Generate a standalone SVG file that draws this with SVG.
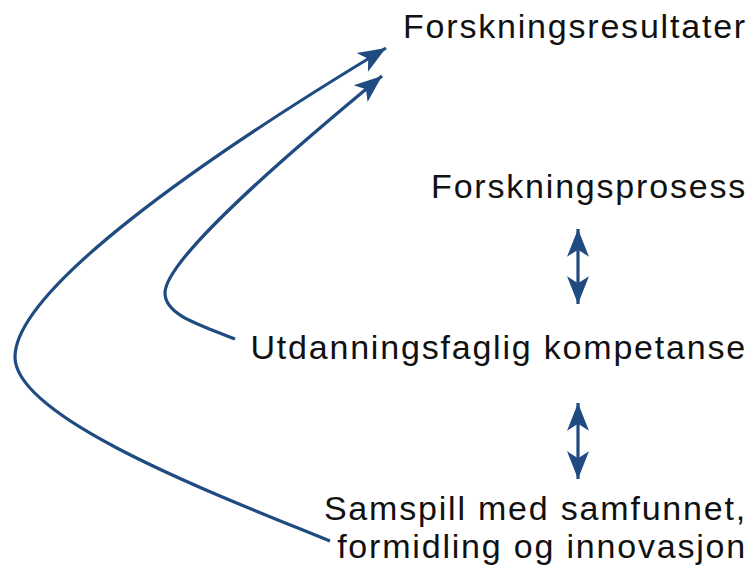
<svg xmlns="http://www.w3.org/2000/svg" width="754" height="572" viewBox="0 0 754 572">
<style>
.lbl{font-family:"Liberation Sans","Noto Sans",sans-serif;font-size:34px;letter-spacing:1.8px;fill:#111;text-anchor:end}
.con{fill:none;stroke:#1f4b80;stroke-width:3.2}
</style>
<defs>
<marker id="ah" markerUnits="userSpaceOnUse" markerWidth="30" markerHeight="30" viewBox="-24 -10 26 20" refX="0" refY="0" orient="auto-start-reverse">
<path d="M0,0 L-24,-9.5 L-18,0 L-24,9.5 Z" fill="#1f4b80"/>
</marker>
</defs>
<rect width="754" height="572" fill="#fff"/>
<g id="n-resultater"><text class="lbl" x="747" y="38">Forskningsresultater</text></g>
<g id="n-prosess"><text class="lbl" x="747" y="198">Forskningsprosess</text></g>
<g id="n-kompetanse"><text class="lbl" x="747" y="359">Utdanningsfaglig kompetanse</text></g>
<g id="n-samspill"><text class="lbl" x="747" y="520">Samspill med samfunnet,</text><text class="lbl" x="747" y="558">formidling og innovasjon</text></g>
<g id="connectors">
<path class="con" d="M330,541 C230,500 15,420 15,357 C15,290 200,160 386,48" marker-end="url(#ah)"/>
<path class="con" d="M235,339 C200,325 165,315 165,293 C165,260 280,160 382,76" marker-end="url(#ah)"/>
<path class="con" d="M578,229 L578,304" marker-start="url(#ah)" marker-end="url(#ah)"/>
<path class="con" d="M578,403 L578,479" marker-start="url(#ah)" marker-end="url(#ah)"/>
</g>
</svg>
